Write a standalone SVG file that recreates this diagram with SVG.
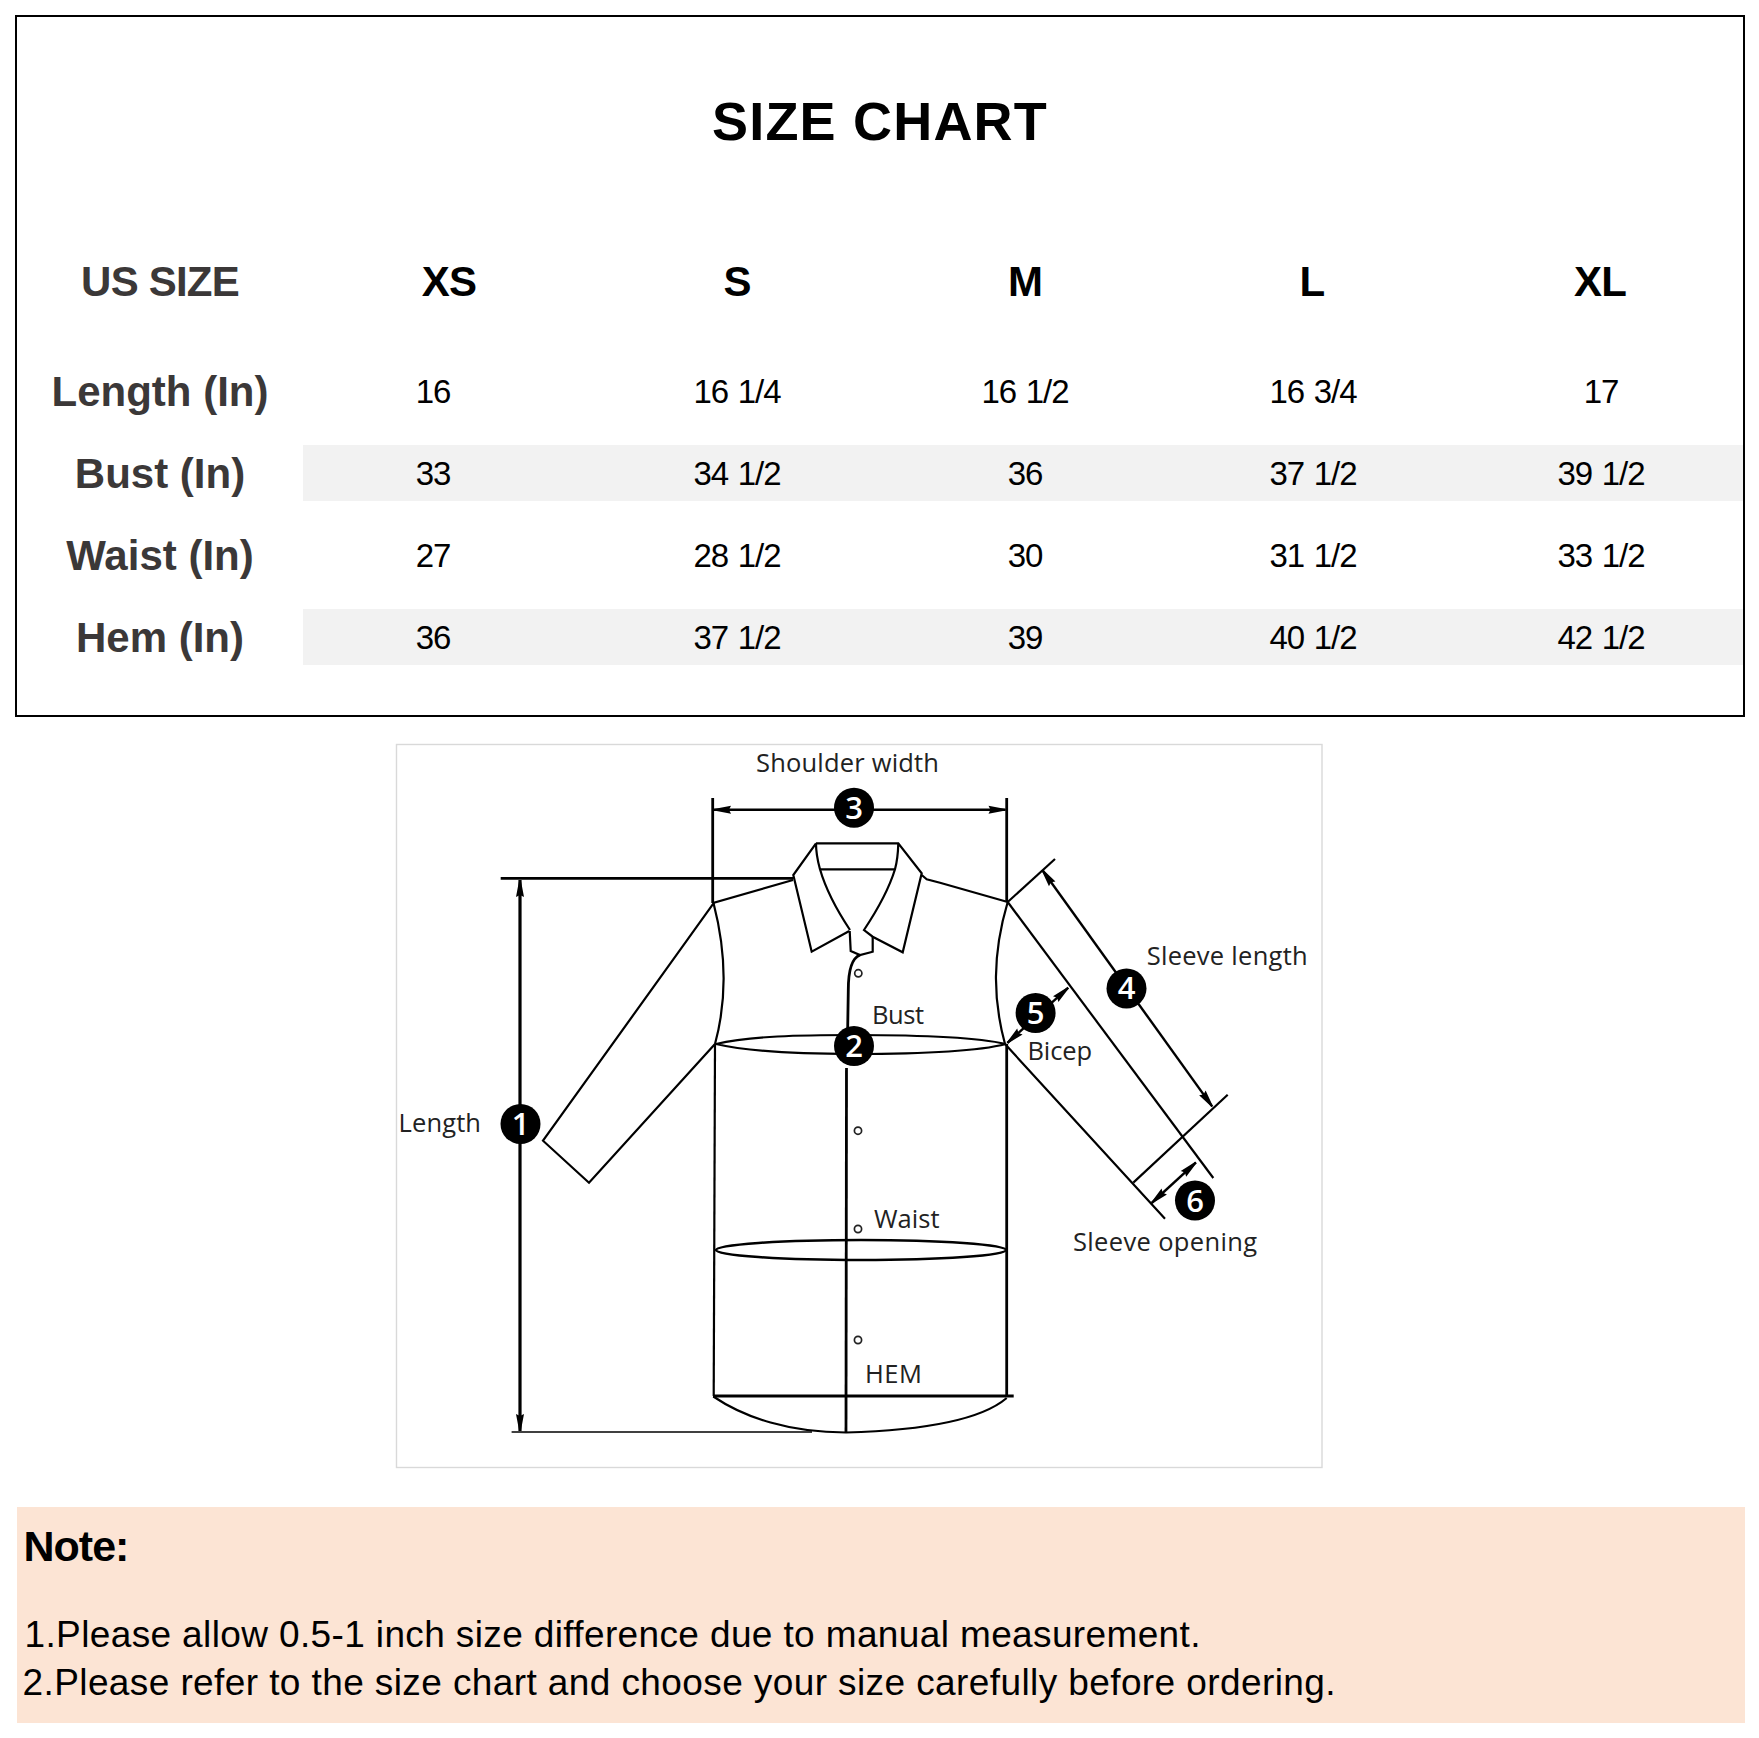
<svg xmlns="http://www.w3.org/2000/svg" width="1759" height="1738" viewBox="0 0 1759 1738">
<defs>
<marker id="head" markerUnits="userSpaceOnUse" viewBox="0 0 18 10" refX="18" refY="5" markerWidth="18" markerHeight="10" orient="auto-start-reverse"><path d="M1 1 L18 4.2 L18 5.8 L1 9 L3 5 Z" fill="#000"/></marker>
</defs>
<style>
text{font-family:"Liberation Sans",Arial,sans-serif}
.title{font-size:54px;font-weight:700;text-anchor:middle;letter-spacing:1.2px}
.size{font-size:42px;font-weight:700;text-anchor:middle;letter-spacing:-.8px}
.rowh{font-size:42px;font-weight:700;text-anchor:middle;fill:#3b3838}
.val{font-size:33px;text-anchor:middle;letter-spacing:-1px;word-spacing:1.5px}
.note{font-size:37px}
.lab{font-family:"Open Sans","Noto Sans",sans-serif;font-size:25.5px;fill:#222}
.num{font-family:"Open Sans","Noto Sans",sans-serif;font-size:31px;font-weight:600;fill:#fff;text-anchor:middle}
.s{fill:none;stroke:#000;stroke-width:2.2;stroke-linejoin:miter}
.t{fill:none;stroke:#000;stroke-width:2.8}
.btn{fill:#fff;stroke:#222;stroke-width:1.7}
.a{fill:none;stroke:#000;stroke-width:2.4;marker-start:url(#head);marker-end:url(#head)}
</style>
<rect width="1759" height="1738" fill="#fff"/>

<g id="size-table">
<rect x="16" y="16" width="1728" height="700" fill="#fff" stroke="#000" stroke-width="2"/>
<rect x="303" y="445" width="1440" height="56" fill="#f2f2f2"/>
<rect x="303" y="609" width="1440" height="56" fill="#f2f2f2"/>
<text class="title" x="880" y="140">SIZE CHART</text>
<text class="size" x="160" y="296" fill="#3b3838">US SIZE</text>
<text class="size" x="449" y="296">XS</text>
<text class="size" x="737" y="296">S</text>
<text class="size" x="1025" y="296">M</text>
<text class="size" x="1312" y="296">L</text>
<text class="size" x="1600" y="296">XL</text>
<text class="rowh" x="160" y="406">Length (In)</text>
<text class="rowh" x="160" y="488">Bust (In)</text>
<text class="rowh" x="160" y="570">Waist (In)</text>
<text class="rowh" x="160" y="652">Hem (In)</text>
<text class="val" x="433" y="403">16</text><text class="val" x="737" y="403">16 1/4</text><text class="val" x="1025" y="403">16 1/2</text><text class="val" x="1313" y="403">16 3/4</text><text class="val" x="1601" y="403">17</text>
<text class="val" x="433" y="485">33</text><text class="val" x="737" y="485">34 1/2</text><text class="val" x="1025" y="485">36</text><text class="val" x="1313" y="485">37 1/2</text><text class="val" x="1601" y="485">39 1/2</text>
<text class="val" x="433" y="567">27</text><text class="val" x="737" y="567">28 1/2</text><text class="val" x="1025" y="567">30</text><text class="val" x="1313" y="567">31 1/2</text><text class="val" x="1601" y="567">33 1/2</text>
<text class="val" x="433" y="649">36</text><text class="val" x="737" y="649">37 1/2</text><text class="val" x="1025" y="649">39</text><text class="val" x="1313" y="649">40 1/2</text><text class="val" x="1601" y="649">42 1/2</text>
</g>

<g id="figure-frame"><rect x="396.5" y="744.5" width="925.5" height="723" fill="#fff" stroke="#d9d9d9" stroke-width="1.4"/></g>

<g id="shirt">
<path class="s" d="M793 880 L714 902.7 L543 1140.7 L589 1182.7 L715 1044"/>
<path class="s" d="M713.5 903 C727 955 727 1000 715 1044"/>
<path class="s" d="M715 1044 L713.7 1396"/>
<path class="t" d="M1006.7 1044 L1006.7 1396"/>
<path class="s" d="M921.7 875 L926.7 879.3 L940 882.7 L1007.7 902"/>
<path class="s" d="M1007.7 902 C992 955 993 1000 1005 1044 L1165 1218.8"/>
<path class="s" d="M1007.7 902 L1213.3 1178"/>
<path class="t" d="M713 1396 L1013.7 1396"/>
<path class="s" d="M713.3 1396.5 C745 1418 790 1432.5 846 1432.5 C900 1431 975 1425 1006.7 1398"/>
<path class="s" d="M816 843.3 L793.3 875 L811.7 951.7 L849.3 931 M816 843.3 C816 855 818 862 820 869.3 C826 890 838 912 850 930 M816 843.3 L898.3 843.3 L921.7 873.3 L902.7 952.3 L872.7 936.7 L864 930 C876 912 888 892 895 869.3 C897 862 898 855 898.3 843.3"/>
<path class="s" d="M820 869.3 L895 869.3"/>
<path class="s" d="M849.7 931 L850.7 951 L860 955 L872.7 951.7 L872.7 936.7"/>
<path class="t" d="M860 955 C852 958 848.3 970 848.3 990 L847.5 1040"/>
<path class="t" d="M846.5 1068 L846 1432"/>
<path class="s" d="M716 1044 C750 1036 800 1035 854 1035 C910 1035 975 1037 1006 1044 C975 1052 910 1054 854 1054 C800 1054 750 1052 716 1044 Z"/>
<ellipse class="s" style="stroke-width:2.6" cx="861" cy="1250" rx="145" ry="10"/>
<circle class="btn" cx="858.3" cy="973.3" r="3.6"/>
<circle class="btn" cx="858" cy="1130.7" r="3.6"/>
<circle class="btn" cx="858" cy="1229" r="3.6"/>
<circle class="btn" cx="858" cy="1340" r="3.6"/>
</g>

<g id="connectors">
<path class="t" d="M712.7 798 L712.7 903"/>
<path class="t" d="M1006.7 798 L1006.7 902"/>
<path class="t" d="M500.7 878.3 L793 878.3"/>
<path class="s" style="stroke-width:1.7" d="M511.6 1432 L812 1432"/>
<path class="s" d="M1007.7 902 L1055 859"/>
<path class="s" d="M1227.7 1094.8 L1133.3 1182.6"/>
<path class="a" d="M714 809.7 L1005.5 809.7"/>
<path class="a" style="stroke-width:3.2" d="M520 880 L520 1431"/>
<path class="a" d="M1042.3 870 L1212.3 1106.6"/>
<path class="a" d="M1007.3 1043 L1068.3 987.7"/>
<path class="a" d="M1151.7 1203 L1196 1162.4"/>
</g>

<g id="badge-1"><circle cx="520.5" cy="1124" r="20"/><text class="num" x="520.5" y="1135">1</text></g>
<g id="badge-2"><circle cx="854" cy="1046" r="20"/><text class="num" x="854" y="1057">2</text></g>
<g id="badge-3"><circle cx="854" cy="807.7" r="20"/><text class="num" x="854" y="818.7">3</text></g>
<g id="badge-4"><circle cx="1126.5" cy="988.4" r="20"/><text class="num" x="1126.5" y="999.4">4</text></g>
<g id="badge-5"><circle cx="1035.6" cy="1013" r="20"/><text class="num" x="1035.6" y="1024">5</text></g>
<g id="badge-6"><circle cx="1195" cy="1200.5" r="20"/><text class="num" x="1195" y="1211.5">6</text></g>

<g id="labels">
<text class="lab" x="756" y="771.7" textLength="183">Shoulder width</text>
<text class="lab" x="398.5" y="1131.7" textLength="82.5">Length</text>
<text class="lab" x="872" y="1024" textLength="52">Bust</text>
<text class="lab" x="1027.5" y="1060" textLength="64.5">Bicep</text>
<text class="lab" x="1146.7" y="964.7" textLength="161">Sleeve length</text>
<text class="lab" x="874" y="1228" textLength="65.5">Waist</text>
<text class="lab" x="1073" y="1251" textLength="184">Sleeve opening</text>
<text class="lab" x="865" y="1382.7" textLength="57">HEM</text>
</g>

<g id="note">
<rect x="17" y="1507" width="1728" height="216" fill="#fce4d4"/>
<text x="23.5" y="1561" font-size="43" font-weight="700" letter-spacing="-1">Note:</text>
<text class="note" x="24.5" y="1647" textLength="1176">1.Please allow 0.5-1 inch size difference due to manual measurement.</text>
<text class="note" x="22.5" y="1695" textLength="1313">2.Please refer to the size chart and choose your size carefully before ordering.</text>
</g>
</svg>
